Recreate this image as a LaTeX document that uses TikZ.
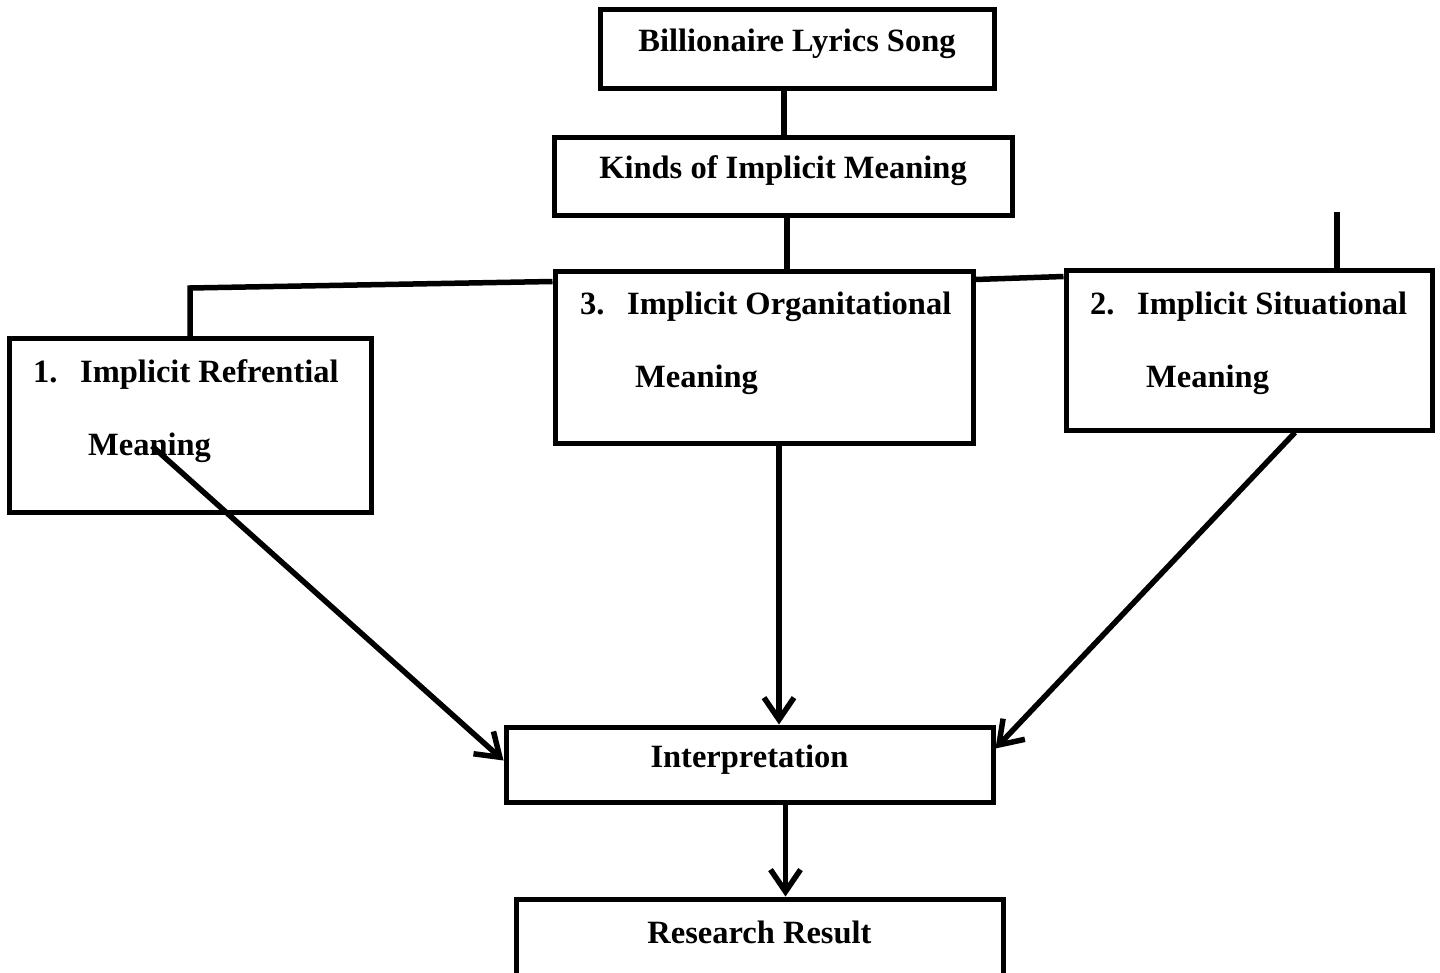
\documentclass[tikz,border=0pt]{standalone}
\usepackage{fontspec}
\setmainfont{Liberation Serif}
\usetikzlibrary{arrows.meta,calc}
\tikzset{
  box/.style={draw, line width=5pt, rectangle, inner sep=0pt},
  lbl/.style={inner sep=0pt, font=\fontsize{32.5}{38}\selectfont\bfseries},
  conn/.style={line width=5.5pt},
  arr/.style={line width=5.5pt, -{Straight Barb[length=22pt,width=30pt,line width=5.5pt]}}
}
\begin{document}
\begin{tikzpicture}[x=1pt,y=-1pt]
\useasboundingbox (0,0) rectangle (1440,973);
% boxes
\node[box, minimum width=394pt, minimum height=79pt] (bil) at (797,49.5) {};
\node[box, minimum width=458pt, minimum height=78pt] (kinds) at (783,177) {};
\node[box, minimum width=418pt, minimum height=171pt] (org) at (764,357.5) {};
\node[box, minimum width=362pt, minimum height=173pt] (ref) at (190,425.5) {};
\node[box, minimum width=366pt, minimum height=159pt] (sit) at (1249,350.5) {};
\node[box, minimum width=487pt, minimum height=75pt] (interp) at (749.5,764.5) {};
\node[box, minimum width=487pt, minimum height=110pt] (res) at (759.5,954) {};
% texts
\node[lbl] (tbil) at (797,44) {Billionaire Lyrics Song};
\node[lbl] (tkinds) at (783,171) {Kinds of Implicit Meaning};
\node[lbl, anchor=base west] (tref1) at (33,382) {1.};
\node[lbl, anchor=base west] (tref2) at (80,382) {Implicit Refrential};
\node[lbl, anchor=base west] (tref3) at (88,455) {Meaning};
\node[lbl, anchor=base west] (torg1) at (580,315) {3.};
\node[lbl, anchor=base west] (torg2) at (627,315) {Implicit Organitational};
\node[lbl, anchor=base west] (torg3) at (635,388) {Meaning};
\node[lbl, anchor=base west] (tsit1) at (1090,315) {2.};
\node[lbl, anchor=base west] (tsit2) at (1137,315) {Implicit Situational};
\node[lbl, anchor=base west] (tsit3) at (1146,388) {Meaning};
\node[lbl] (tint) at (749.5,760) {Interpretation};
\node[lbl] (tres) at (759.5,932) {Research Result};
% connectors
\draw[conn] ([xshift=-13pt]bil.south) -- ([xshift=-13pt]bil.south |- kinds.north);
\draw[conn] ([xshift=4pt]kinds.south) -- ([xshift=23pt]org.north);
\coordinate (lj) at (190,288);
\draw[conn] ([yshift=-12pt]org.north west) -- (lj) -- (lj |- ref.north);
\draw[conn] ([yshift=-10pt]org.north east) -- ([yshift=-8pt]sit.north west);
\coordinate (st) at (1337,212);
\draw[conn] (st) -- ([yshift=-3pt]st |- sit.north);
\coordinate (ms) at (152,446);
\draw[arr] (ms) -- ([yshift=4pt]interp.west);
\draw[arr] ([xshift=15pt]org.south) -- ([xshift=15pt]org.south |- interp.north);
\draw[arr] ([xshift=46pt]sit.south) -- ([yshift=16pt]interp.east);
\draw[arr] ([xshift=36pt]interp.south) -- ([xshift=36pt]interp.south |- res.north);
\end{tikzpicture}
\end{document}
